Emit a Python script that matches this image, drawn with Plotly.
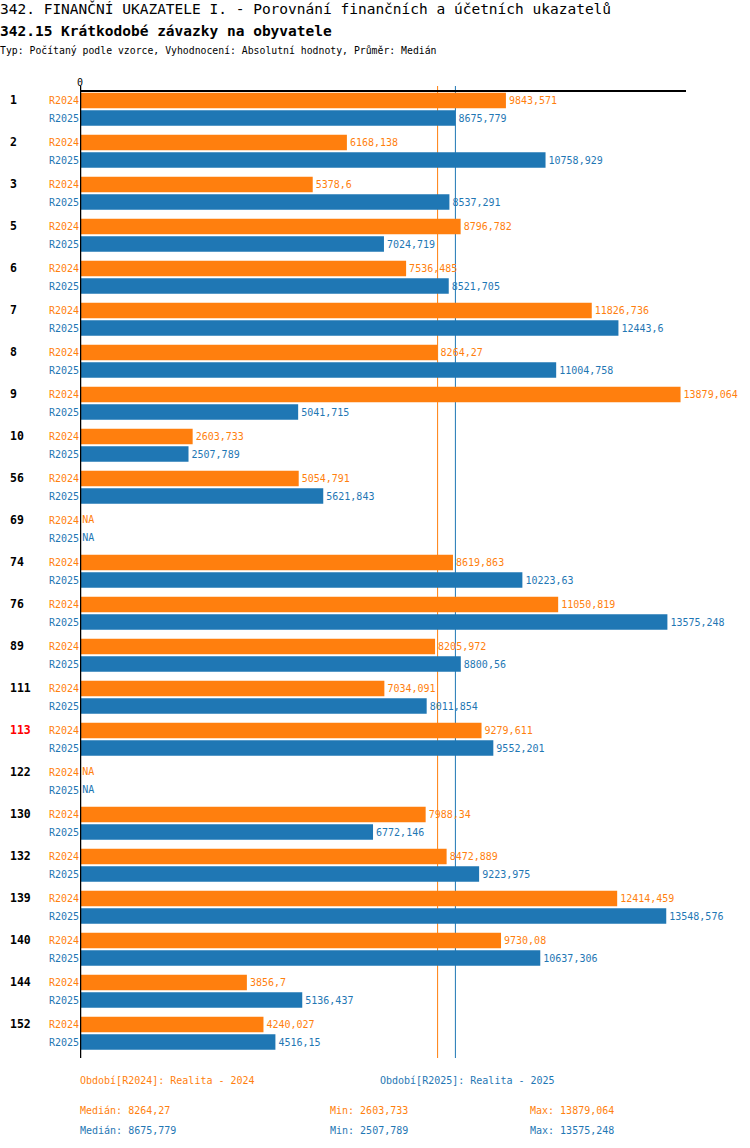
"""342.15 Krátkodobé závazky na obyvatele – R2024 vs R2025, horizontal paired bars."""
import numpy as np
import plotly.graph_objects as go

# --- data --------------------------------------------------------------------
groups = ["1", "2", "3", "5", "6", "7", "8", "9", "10", "56", "69", "74", "76",
          "89", "111", "113", "122", "130", "132", "139", "140", "144", "152"]
highlight = "113"

r2024 = [9843.571, 6168.138, 5378.6, 8796.782, 7536.485, 11826.736, 8264.27,
         13879.064, 2603.733, 5054.791, None, 8619.863, 11050.819, 8205.972,
         7034.091, 9279.611, None, 7988.34, 8472.889, 12414.459, 9730.08,
         3856.7, 4240.027]
r2025 = [8675.779, 10758.929, 8537.291, 7024.719, 8521.705, 12443.6, 11004.758,
         5041.715, 2507.789, 5621.843, None, 10223.63, 13575.248, 8800.56,
         8011.854, 9552.201, None, 6772.146, 9223.975, 13548.576, 10637.306,
         5136.437, 4516.15]

series = [
    ("R2024", "Období[R2024]: Realita - 2024", r2024),
    ("R2025", "Období[R2025]: Realita - 2025", r2025),
]

# --- style -------------------------------------------------------------------
MONO = "DejaVu Sans Mono"
COLORS = {"R2024": "#ff7f0e", "R2025": "#1f77b4"}
OFFSETS = {"R2024": -0.298, "R2025": 0.119}   # bar centre inside a group slot
BAR_W = 0.37

W, H = 750, 1148
L, R, T, B = 80, 64, 92, 90
PW, PH = W - L - R, H - T - B


def fmt(v):
    if v is None:
        return "NA"
    return f"{v:.3f}".rstrip("0").rstrip(".").replace(".", ",")


def px_x(x):
    return (x - L) / PW


def px_y(y):
    return (H - B - y) / PH


fig = go.Figure()
tickvals, ticktext = [], []

for key, _, vals in series:
    ys = [i + OFFSETS[key] for i in range(len(groups))]
    fig.add_trace(go.Bar(
        x=vals, y=ys, orientation="h", width=BAR_W,
        marker=dict(color=COLORS[key], line=dict(width=0)),
        text=[fmt(v) if v is not None else "" for v in vals],
        textposition="outside", constraintext="none", cliponaxis=False,
        textfont=dict(family=MONO, size=10, color=COLORS[key]),
        hoverinfo="skip", showlegend=False,
    ))
    na_y = [y for y, v in zip(ys, vals) if v is None]
    fig.add_trace(go.Scatter(
        x=[0] * len(na_y), y=na_y, mode="markers+text", text=["NA"] * len(na_y),
        marker=dict(size=2, color="rgba(0,0,0,0)"),
        textposition="middle right", cliponaxis=False,
        textfont=dict(family=MONO, size=10, color=COLORS[key]),
        hoverinfo="skip", showlegend=False,
    ))
    tickvals += ys
    ticktext += [f'<span style="color:{COLORS[key]}">{key}</span>'] * len(ys)

# group labels
for i, g in enumerate(groups):
    fig.add_annotation(
        x=px_x(8), xref="paper", xanchor="left", y=i + OFFSETS["R2024"], yref="y",
        yanchor="middle", text=f"<b>{g}</b>", showarrow=False,
        font=dict(family=MONO, size=11.5, color="#ff0000" if g == highlight else "black"),
    )

# axis line on the left and median lines
top_ext = 1 + 6 / PH
fig.add_shape(type="line", xref="x", yref="paper", x0=0, x1=0, y0=0, y1=top_ext,
              line=dict(color="black", width=2.5), layer="above")
for key, _, vals in series:
    med = float(np.median([v for v in vals if v is not None]))
    fig.add_shape(type="line", xref="x", yref="paper", x0=med, x1=med, y0=0, y1=top_ext,
                  line=dict(color=COLORS[key], width=1), layer="below")

# titles
titles = [
    ("342. FINANČNÍ UKAZATELE I. - Porovnání finančních a účetních ukazatelů", 9, 14.5),
    ("<b>342.15 Krátkodobé závazky na obyvatele</b>", 31, 14.5),
    ("Typ: Počítaný podle vzorce, Vyhodnocení: Absolutní hodnoty, Průměr: Medián", 51, 9.8),
]
for text, y, size in titles:
    fig.add_annotation(x=px_x(0), xref="paper", xanchor="left", y=px_y(y), yref="paper",
                       yanchor="middle", xshift=-2, text=text, showarrow=False,
                       font=dict(family=MONO, size=size, color="black"))

# footer: legend + stats
for j, (key, label, vals) in enumerate(series):
    c = COLORS[key]
    fig.add_annotation(x=px_x(80 + 300 * j), xref="paper", xanchor="left", y=px_y(1080),
                       yref="paper", yanchor="middle", xshift=-2, text=label,
                       showarrow=False, font=dict(family=MONO, size=10, color=c))
    clean = [v for v in vals if v is not None]
    stats = [("Medián", float(np.median(clean)), 80),
             ("Min", min(clean), 330),
             ("Max", max(clean), 530)]
    for name, v, x in stats:
        fig.add_annotation(x=px_x(x), xref="paper", xanchor="left", y=px_y(1110 + 20 * j),
                           yref="paper", yanchor="middle", xshift=-2,
                           text=f"{name}: {fmt(v)}", showarrow=False,
                           font=dict(family=MONO, size=10, color=c))

fig.update_layout(
    width=W, height=H, margin=dict(l=L, r=R, t=T, b=B, autoexpand=False),
    paper_bgcolor="white", plot_bgcolor="white",
    barmode="overlay", showlegend=False,
    font=dict(family=MONO, size=10, color="black"),
    xaxis=dict(range=[0, 14005], side="top", showline=True, linecolor="black",
               linewidth=1.5, showgrid=False, zeroline=False, tickvals=[0],
               ticktext=["0"], ticks="", tickfont=dict(family=MONO, size=10)),
    yaxis=dict(range=[len(groups) - 0.5, -0.5], showline=False, showgrid=False,
               zeroline=False, tickvals=tickvals, ticktext=ticktext, ticks="",
               tickfont=dict(family=MONO, size=10)),
)

# drop the default page margin so the figure sits at the window's corner
fig.write_html("out.html", config={"displayModeBar": False},
               post_script="document.body.style.margin='0';")
